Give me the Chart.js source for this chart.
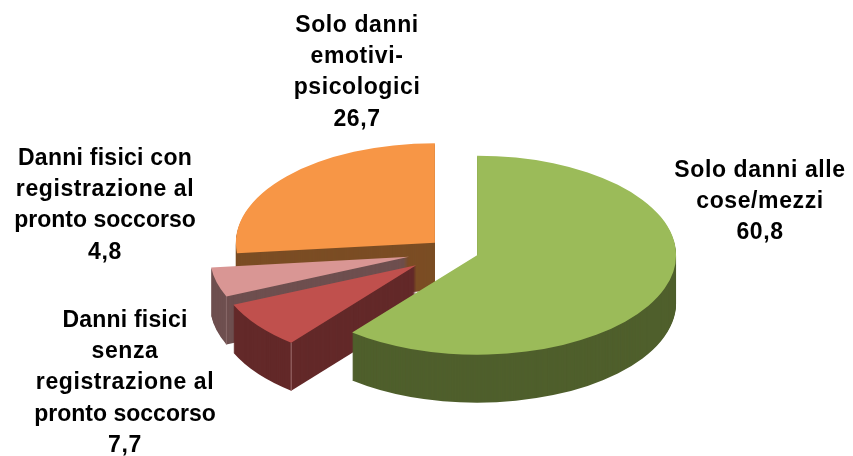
<!DOCTYPE html>
<html>
<head>
<meta charset="utf-8">
<style>
html, body { margin: 0; padding: 0; background: #fff; }
canvas { display: block; }
</style>
<script src="https://cdn.jsdelivr.net/npm/chart.js@4"></script>
</head>
<body>
<canvas id="pie" width="853" height="456"></canvas>
<script>
const categories = [
    ['Solo danni alle', 'cose/mezzi'],
    ['Danni fisici', 'senza', 'registrazione al', 'pronto soccorso'],
    ['Danni fisici con', 'registrazione al', 'pronto soccorso'],
    ['Solo danni', 'emotivi-', 'psicologici']
];
const values = [60.8, 7.7, 4.8, 26.7];
const topColors = ['#9BBB59', '#C0504D', '#D99694', '#F79646'];
const sideColors = ['#4F5F2C', '#632929', '#6E4F4F', '#7B4D24'];
const cornerColors = [null, '#A07070', '#8A6A6A', null];
const explode = [25, 47, 46, 25];
const labelX = [760, 125, 105, 357];
const labelY = [176.5, 327, 165, 32];
const tightLines = { 'pronto soccorso': '0px', 'Danni fisici': '0.2px', 'Danni fisici con': '0.25px' };

const squash = 0.5;
const depth = 48;
const lineHeight = 31.2;

const pie3d = {
    id: 'pie3d',
    // the library's own offset option also grows the radius, so move the arcs here
    afterDatasetsUpdate(chart) {
        chart.getDatasetMeta(0).data.forEach((a, i) => {
            const mid = (a.startAngle + a.endAngle) / 2;
            a.x += Math.cos(mid) * explode[i];
            a.y += Math.sin(mid) * explode[i];
        });
    },
    beforeDatasetsDraw(chart) {
        const ctx = chart.ctx;
        const arcs = chart.getDatasetMeta(0).data;
        const cy = (chart.chartArea.top + chart.chartArea.bottom) / 2;
        // walls first, back slice to front slice
        for (let i = arcs.length - 1; i >= 0; i--) {
            const a = arcs[i];
            ctx.fillStyle = sideColors[i];
            for (let d = depth; d > 0; d--) {
                ctx.save();
                ctx.translate(0, cy + d);
                ctx.scale(1, squash);
                ctx.translate(0, -cy);
                ctx.beginPath();
                ctx.moveTo(a.x, a.y);
                ctx.arc(a.x, a.y, a.outerRadius, a.startAngle, a.endAngle);
                ctx.closePath();
                ctx.fill();
                ctx.restore();
            }
            if (cornerColors[i]) {
                const px = a.x + Math.cos(a.startAngle) * a.outerRadius;
                const py = cy + (a.y + Math.sin(a.startAngle) * a.outerRadius - cy) * squash;
                ctx.strokeStyle = cornerColors[i];
                ctx.lineWidth = 1;
                ctx.beginPath();
                ctx.moveTo(px, py);
                ctx.lineTo(px, py + depth);
                ctx.stroke();
            }
        }
        ctx.save();
        ctx.translate(0, cy);
        ctx.scale(1, squash);
        ctx.translate(0, -cy);
    },
    afterDatasetsDraw(chart) {
        const ctx = chart.ctx;
        ctx.restore();
        ctx.save();
        ctx.fillStyle = '#000';
        ctx.font = 'bold 23px "Liberation Sans", Arial, sans-serif';
        ctx.textAlign = 'center';
        ctx.textBaseline = 'alphabetic';
        categories.forEach((lines, i) => {
            const all = lines.concat(values[i].toFixed(1).replace('.', ','));
            all.forEach((t, n) => {
                ctx.letterSpacing = tightLines[t] || '0.6px';
                ctx.fillText(t, labelX[i], labelY[i] + n * lineHeight);
            });
        });
        ctx.restore();
    }
};

new Chart(document.getElementById('pie').getContext('2d'), {
    type: 'pie',
    data: {
        labels: categories.map(l => l.join(' ')),
        datasets: [{
            data: values,
            backgroundColor: topColors,
            borderWidth: 0,
            hoverOffset: 0,
            clip: false
        }]
    },
    options: {
        responsive: false,
        animation: false,
        radius: 199,
        layout: { padding: { left: 54, top: 46 } },
        events: [],
        plugins: { legend: { display: false }, tooltip: { enabled: false } }
    },
    plugins: [pie3d]
});
</script>
</body>
</html>
